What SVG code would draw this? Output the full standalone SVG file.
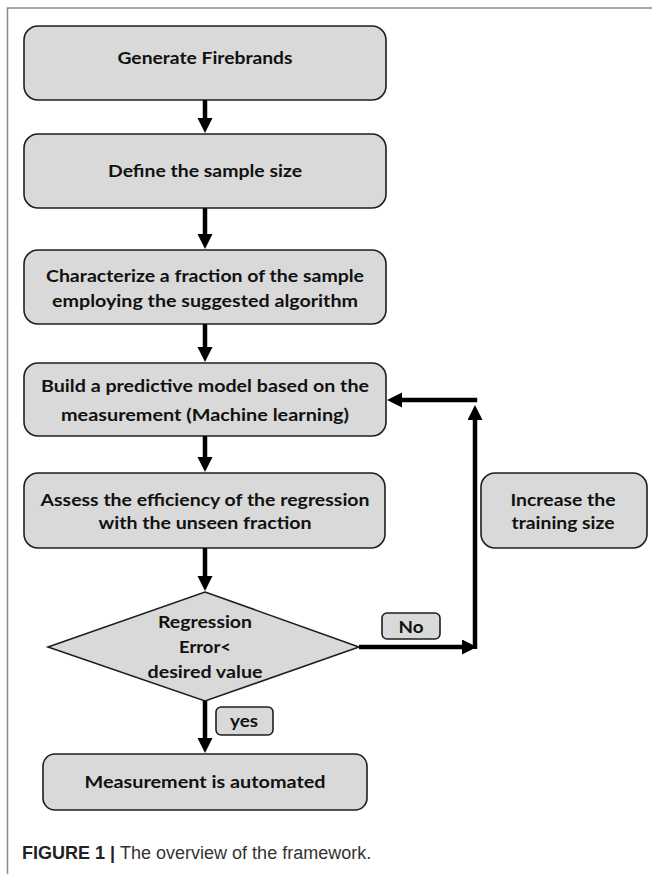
<svg xmlns="http://www.w3.org/2000/svg" width="652" height="874" viewBox="0 0 652 874">
<style>
.box{fill:#d9d9d9;stroke:#1e1e1e;stroke-width:1.6}
.t{font-family:Lato,"Open Sans","Liberation Sans",sans-serif;font-weight:bold;font-size:17.5px;fill:#111;text-anchor:middle}
.c{stroke:#000;stroke-width:4.5;fill:none}
.frame{stroke:#8a8a8a;stroke-width:1.5;fill:none}
.cap{font-family:"Liberation Sans",Arial,sans-serif;font-size:18px;fill:#333}
</style>
<defs>
<marker id="ah" markerUnits="userSpaceOnUse" markerWidth="16" markerHeight="16" refX="5" refY="7.5" orient="auto">
<path d="M0,0 L15,7.5 L0,15 z" fill="#000"/>
</marker>
</defs>
<rect width="652" height="874" fill="#fff"/>
<path class="frame" d="M652,8 H7.5 V874"/>

<g id="n1"><rect class="box" x="24" y="26" width="362" height="74" rx="14"/>
<text class="t" x="205" y="64" textLength="175" lengthAdjust="spacingAndGlyphs">Generate Firebrands</text></g>
<g id="n2"><rect class="box" x="24" y="134" width="362" height="74" rx="14"/>
<text class="t" x="205" y="177" textLength="194" lengthAdjust="spacingAndGlyphs">Define the sample size</text></g>
<g id="n3"><rect class="box" x="24" y="250" width="362" height="74" rx="14"/>
<text class="t" x="205" y="282" textLength="318" lengthAdjust="spacingAndGlyphs">Characterize a fraction of the sample</text>
<text class="t" x="205" y="307" textLength="306" lengthAdjust="spacingAndGlyphs">employing the suggested algorithm</text></g>
<g id="n4"><rect class="box" x="24" y="363" width="362" height="73" rx="14"/>
<text class="t" x="205" y="392" textLength="328" lengthAdjust="spacingAndGlyphs">Build a predictive model based on the</text>
<text class="t" x="205" y="421" textLength="288" lengthAdjust="spacingAndGlyphs">measurement (Machine learning)</text></g>
<g id="n5"><rect class="box" x="24" y="473" width="361" height="75" rx="14"/>
<text class="t" x="205" y="506" textLength="329" lengthAdjust="spacingAndGlyphs">Assess the efficiency of the regression</text>
<text class="t" x="205" y="529" textLength="213" lengthAdjust="spacingAndGlyphs">with the unseen fraction</text></g>
<g id="n6"><rect class="box" x="481" y="473" width="166" height="75" rx="14"/>
<text class="t" x="563" y="506" textLength="105" lengthAdjust="spacingAndGlyphs">Increase the</text>
<text class="t" x="563" y="529" textLength="103" lengthAdjust="spacingAndGlyphs">training size</text></g>
<g id="n7"><polygon class="box" points="205,592 359,647 205,701 48,647"/>
<text class="t" x="205" y="628" textLength="94" lengthAdjust="spacingAndGlyphs">Regression</text>
<text class="t" x="205" y="653" textLength="52" lengthAdjust="spacingAndGlyphs">Error&lt;</text>
<text class="t" x="205" y="678" textLength="115" lengthAdjust="spacingAndGlyphs">desired value</text></g>
<g id="n8"><rect class="box" x="43" y="754" width="324" height="56" rx="12"/>
<text class="t" x="205" y="788" textLength="241" lengthAdjust="spacingAndGlyphs">Measurement is automated</text></g>
<g id="lblNo"><rect class="box" x="382" y="613" width="58" height="26" rx="5"/>
<text class="t" x="411" y="632.5" textLength="25" lengthAdjust="spacingAndGlyphs">No</text></g>
<g id="lblYes"><rect class="box" x="216" y="707" width="57" height="28" rx="5"/>
<text class="t" x="244" y="727" textLength="28" lengthAdjust="spacingAndGlyphs">yes</text></g>

<g id="connectors">
<line class="c" x1="205" y1="100" x2="205" y2="123" marker-end="url(#ah)"/>
<line class="c" x1="205" y1="208" x2="205" y2="239" marker-end="url(#ah)"/>
<line class="c" x1="205" y1="324" x2="205" y2="352" marker-end="url(#ah)"/>
<line class="c" x1="205" y1="436" x2="205" y2="462" marker-end="url(#ah)"/>
<line class="c" x1="205" y1="548" x2="205" y2="581" marker-end="url(#ah)"/>
<line class="c" x1="205" y1="701" x2="205" y2="743" marker-end="url(#ah)"/>
<line class="c" x1="359" y1="647" x2="467" y2="647" marker-end="url(#ah)"/>
<line class="c" x1="475" y1="649" x2="475" y2="415" marker-end="url(#ah)"/>
<line class="c" x1="477.2" y1="400" x2="397" y2="400" marker-end="url(#ah)"/>
</g>

<text class="cap" x="22" y="859"><tspan font-weight="bold" fill="#222">FIGURE 1 | </tspan><tspan>The overview of the framework.</tspan></text>
</svg>
